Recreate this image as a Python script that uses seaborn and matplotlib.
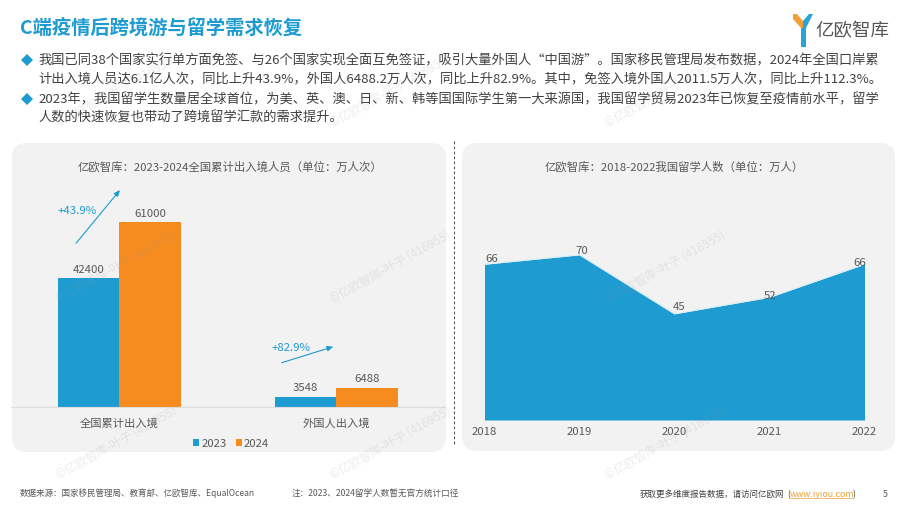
import matplotlib
matplotlib.use("Agg")
import matplotlib.pyplot as plt
from matplotlib.patches import FancyBboxPatch, Patch, Polygon
import pandas as pd
import seaborn as sns

sns.set_theme(style="white")
plt.rcParams['font.family'] = ['Noto Sans CJK SC', 'DejaVu Sans']

# ---------- data ----------
title = "C端疫情后跨境游与留学需求恢复"
para1 = ["我国已同38个国家实行单方面免签、与26个国家实现全面互免签证，吸引大量外国人“中国游”。国家移民管理局发布数据，2024年全国口岸累",
         "计出入境人员达6.1亿人次，同比上升43.9%，外国人6488.2万人次，同比上升82.9%。其中，免签入境外国人2011.5万人次，同比上升112.3%。"]
para2 = ["2023年，我国留学生数量居全球首位，为美、英、澳、日、新、韩等国国际学生第一大来源国，我国留学贸易2023年已恢复至疫情前水平，留学",
         "人数的快速恢复也带动了跨境留学汇款的需求提升。"]
bar_title = "亿欧智库：2023-2024全国累计出入境人员（单位：万人次）"
area_title = "亿欧智库：2018-2022我国留学人数（单位：万人）"
bar_categories = ["全国累计出入境", "外国人出入境"]
values_2023 = [42400, 3548]
values_2024 = [61000, 6488]
growth_labels = ["+43.9%", "+82.9%"]
years = [2018, 2019, 2020, 2021, 2022]
students = [66, 70, 45, 52, 66]
source = "数据来源：国家移民管理局、教育部、亿欧智库、EqualOcean"
note = "注：2023、2024留学人数暂无官方统计口径"
more = "获取更多维度报告数据，请访问亿欧网"
link = "www.iyiou.com"
page = "5"
watermark = "©亿欧智库-叶子 (416955)"

BLUE, ORANGE, PANEL, GREY = "#1E9BD1", "#F68C20", "#F2F2F2", "#595959"
W, H = 907, 510

fig = plt.figure(figsize=(W / 100, H / 100), dpi=100, facecolor="white")

def axes_px(x0, y0, x1, y1, **kw):
    return fig.add_axes([x0 / W, 1 - y1 / H, (x1 - x0) / W, (y1 - y0) / H], **kw)

# page layer in pixel coordinates
bg = axes_px(0, 0, W, H)
bg.set_xlim(0, W); bg.set_ylim(H, 0); bg.axis("off")
for (x0, y0, x1, y1) in [(12, 144, 446, 453), (462, 144, 895, 452)]:
    bg.add_patch(FancyBboxPatch((x0 + 15, y0 + 15), x1 - x0 - 30, y1 - y0 - 30,
                                boxstyle="round,pad=15,rounding_size=15",
                                fc=PANEL, ec="none", zorder=0))
bg.text(20, 28.5, title, color=BLUE, fontsize=13.9, fontweight="bold", va="center", ha="left")
for y, line in zip([61, 79, 100, 118], para1 + para2):
    bg.text(38, y, line, color="#404040", fontsize=9.52, va="center", ha="left")
bg.plot([27, 27], [60.5, 100], ls="none", marker="D", ms=5.8, color=BLUE, mew=0)
bg.plot([453.5, 453.5], [142, 445], color="#555555", lw=0.8, ls=(0, (2.5, 2)))
bg.text(230.5, 167, bar_title, color=GREY, fontsize=8.2, va="center", ha="center")
bg.text(674.5, 167, area_title, color=GREY, fontsize=8.2, va="center", ha="center")

# clustered bars
ax1 = axes_px(11, 195.3, 445, 408.3)
ax1.patch.set_alpha(0)
long_df = pd.DataFrame({
    "cat": bar_categories * 2,
    "year": ["2023"] * len(values_2023) + ["2024"] * len(values_2024),
    "value": values_2023 + values_2024,
})
sns.barplot(data=long_df, x="cat", y="value", hue="year", palette=[BLUE, ORANGE],
            width=0.571, gap=0, saturation=1, errorbar=None, ax=ax1, legend=False, linewidth=0)
ax1.set_xlim(-0.5, 1.5); ax1.set_ylim(0, 70000)
for c in ax1.containers:
    ax1.bar_label(c, fmt="%d", padding=3, fontsize=8.2, color=GREY)
ax1.set_xlabel(""); ax1.set_ylabel(""); ax1.set_yticks([])
ax1.tick_params(axis="x", length=0, pad=7, labelsize=8.1, labelcolor=GREY)
sns.despine(ax=ax1, left=True)
ax1.spines["bottom"].set_color("#DDDDDD"); ax1.spines["bottom"].set_linewidth(0.8)
bg.legend(handles=[Patch(color=BLUE, label="2023", lw=0), Patch(color=ORANGE, label="2024", lw=0)],
          loc="center", bbox_to_anchor=(231, 444.5), bbox_transform=bg.transData,
          ncol=2, frameon=False, fontsize=8.2, handlelength=0.55, handleheight=0.55,
          handletextpad=0.2, columnspacing=0.8, labelcolor=GREY, borderpad=0)

# growth arrows
for (start, end, lab, tx, ty) in [((76, 244.3), (120, 191), growth_labels[0], 58, 211.5),
                                  ((281.7, 363.7), (333.3, 347.7), growth_labels[1], 272, 348.5)]:
    bg.annotate("", xy=end, xytext=start, zorder=5,
                arrowprops=dict(arrowstyle="-|>,head_length=0.3,head_width=0.13", color=BLUE, lw=0.8,
                                shrinkA=0, shrinkB=0))
    bg.text(tx, ty, lab, color=BLUE, fontsize=8.2, va="center", ha="left")

# area chart
ax2 = axes_px(484.5, 185, 864.5, 421)
ax2.patch.set_alpha(0)
sns.lineplot(x=years, y=students, color="#DCEFF8", lw=0.9, ax=ax2)
ax2.fill_between(years, students, 0, color=BLUE, lw=0)
ax2.set_xlim(years[0], years[-1])
ax2.set_ylim(0, 100)
label_offsets = [(5.2, 1), (1.5, -0.5), (3.5, 1.7), (0.5, -2), (-3.3, -2.3)]
for x, y, off in zip(years, students, label_offsets):
    ax2.annotate(str(y), (x, y), xytext=off, textcoords="offset points", ha="center", va="bottom",
                 fontsize=8.2, color=GREY, annotation_clip=False)
ax2.set_xticks(years, [str(y) for y in years])
ax2.set_yticks([])
ax2.tick_params(axis="x", length=0, pad=4, labelsize=8.2, labelcolor=GREY)
sns.despine(ax=ax2, left=True, bottom=True)

# footer
bg.text(20, 493.5, source, color=GREY, fontsize=6.15, va="center", ha="left")
bg.text(292, 493.5, note, color=GREY, fontsize=6.2, va="center", ha="left")
bg.text(640, 494.5, more, color="#404040", fontsize=6.15, va="center", ha="left")
bg.text(787, 494.5, "(", color="#404040", fontsize=6.15, va="center", ha="left")
bg.text(790, 494.5, link, color="#EFA02F", fontsize=6.4, va="center", ha="left")
bg.plot([790, 852], [498.5, 498.5], color="#EFA02F", lw=0.5)
bg.text(853, 494.5, ")", color="#404040", fontsize=6.15, va="center", ha="left")
bg.text(885, 494.5, page, color=GREY, fontsize=6.4, va="center", ha="center")

# logo
bg.add_patch(Polygon([(801, 29), (806, 29), (806, 48), (801, 48)], fc="#2AA3D8", ec="none"))
bg.add_patch(Polygon([(793, 15), (797, 15), (803, 22), (803, 29), (801, 29), (793, 20)], fc="#F3A23B", ec="none"))
bg.add_patch(Polygon([(803, 29), (803, 22), (809, 15), (813, 15), (806, 29)], fc="#2AA3D8", ec="none"))
bg.text(815, 31, "亿欧智库", color="#555555", fontsize=13.3, va="center", ha="left")

# watermark on top of everything
top = axes_px(0, 0, W, H)
top.set_xlim(0, W); top.set_ylim(H, 0); top.axis("off"); top.patch.set_alpha(0)
for cx in [116, 390, 665]:
    for cy in [91, 267, 443]:
        top.text(cx, cy, watermark, rotation=29, color="#9A9A9A", alpha=0.18, fontsize=8.6,
                 ha="center", va="center", clip_on=True)

fig.savefig("out.png", dpi=100, facecolor="white")
